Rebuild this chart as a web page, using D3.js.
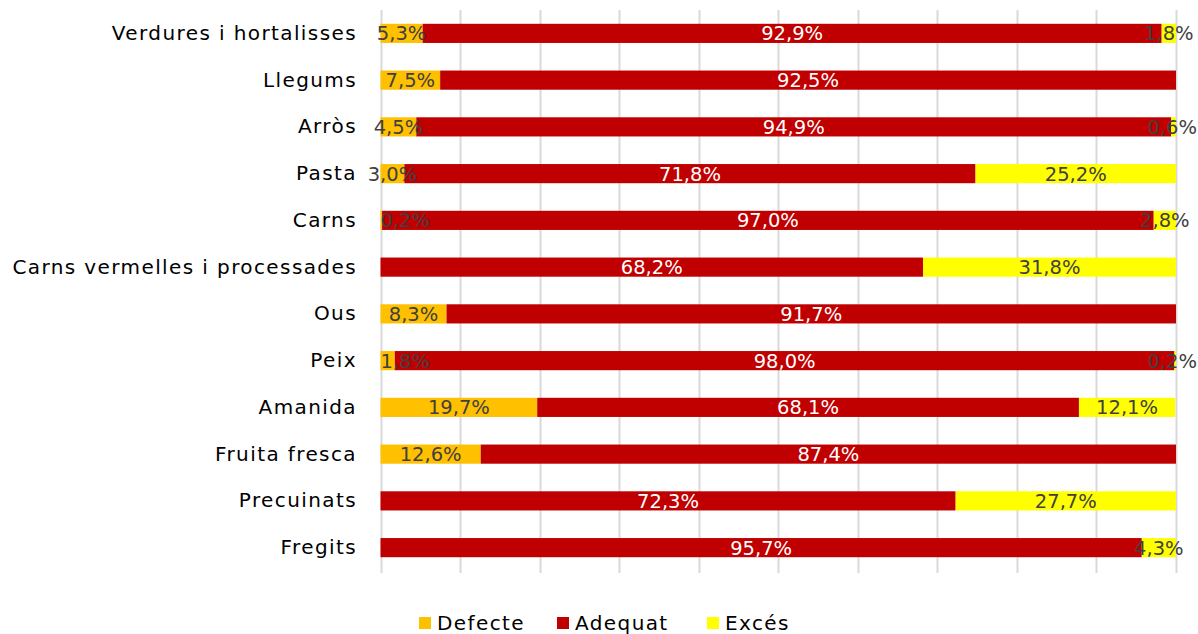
<!DOCTYPE html>
<html><head><meta charset="utf-8">
<script src="https://cdn.jsdelivr.net/npm/d3@7"></script>
<style>body{margin:0;background:#fff;} text{font-family:"DejaVu Sans",sans-serif;}</style>
</head><body>
<svg id="chart" width="1198" height="634"></svg>
<script>
const categories = ["Verdures i hortalisses","Llegums","Arròs","Pasta","Carns","Carns vermelles i processades","Ous","Peix","Amanida","Fruita fresca","Precuinats","Fregits"];
const defecte = [5.3,7.5,4.5,3.0,0.2,0,8.3,1.8,19.7,12.6,0,0];
const adequat = [92.9,92.5,94.9,71.8,97.0,68.2,91.7,98.0,68.1,87.4,72.3,95.7];
const exces   = [1.8,0,0.6,25.2,2.8,31.8,0,0.2,12.1,0,27.7,4.3];
const seriesNames = ["Defecte","Adequat","Excés"];
const colors = ["#FFC000","#C00000","#FFFF00"];
const labelColors = ["#404040","#ffffff","#404040"];
const xTicks = [0,10,20,30,40,50,60,70,80,90,100];

const svg = d3.select("#chart");
const x = d3.scaleLinear().domain([0,100]).range([380.5,1176]);
const y = d3.scaleBand().domain(categories).range([10,571]).paddingInner(0.59).paddingOuter(0.295);

// gridlines
svg.append("g").selectAll("line").data(xTicks).join("line")
  .attr("x1",d=>Math.round(x(d))+0.5).attr("x2",d=>Math.round(x(d))+0.5)
  .attr("y1",10).attr("y2",573)
  .attr("stroke","#d9d9d9").attr("stroke-width",2);

const data = categories.map((c,i)=>({cat:c, Defecte:defecte[i], Adequat:adequat[i], "Excés":exces[i]}));
const stack = d3.stack().keys(seriesNames)(data);

const g = svg.append("g");
stack.forEach((s,si)=>{
  g.append("g").selectAll("rect").data(s.filter(d=>d[1]-d[0]>0)).join("rect")
    .attr("x",d=>x(d[0])).attr("width",d=>x(d[1])-x(d[0]))
    .attr("y",d=>y(d.data.cat)).attr("height",y.bandwidth())
    .attr("fill",colors[si]);
});
stack.forEach((s,si)=>{
  g.append("g").selectAll("text").data(s.filter(d=>d[1]-d[0]>0)).join("text")
    .attr("y",d=>y(d.data.cat)+y.bandwidth()/2)
    .attr("dy","0.36em")
    .attr("font-size",19.5)
    .attr("fill",labelColors[si])
    .text(d=>(d[1]-d[0]).toFixed(1).replace(".",",")+"%")
    .each(function(d){
      const sel = d3.select(this);
      const c = (x(d[0])+x(d[1]))/2;
      const w = this.getComputedTextLength();
      let left = (si===0 && x(d[1])-x(d[0]) < 16) ? Math.max(c - w/2, x(0)) : c - w/2;
      left = Math.min(left, 1197 - w);
      sel.attr("x", left);
    });
});

// category labels
const yAxis = d3.axisLeft(y).tickSize(0).tickPadding(0);
const ya = svg.append("g").attr("transform","translate(357,0)").call(yAxis);
ya.select(".domain").remove();
ya.selectAll("text").attr("font-size",20).attr("fill","#000")
  .style("font-family","'DejaVu Sans', sans-serif").style("letter-spacing","1.4px");

// legend
const legendX = [419,557,707];
const lg = svg.append("g");
seriesNames.forEach((n,i)=>{
  lg.append("rect").attr("x",legendX[i]).attr("y",617).attr("width",12).attr("height",12).attr("fill",colors[i]);
  lg.append("text").attr("x",legendX[i]+18).attr("y",623).attr("dy","0.36em").attr("font-size",20)
    .style("letter-spacing","1.4px").attr("fill","#000").text(n);
});
</script>
</body></html>
